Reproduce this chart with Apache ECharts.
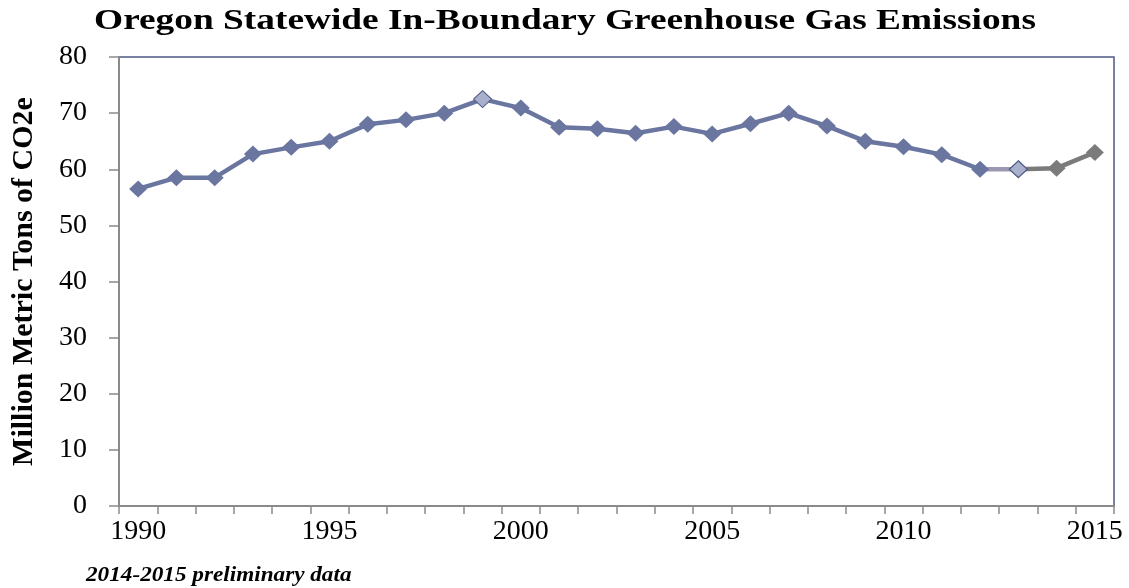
<!DOCTYPE html>
<html>
<head>
<meta charset="utf-8">
<script src="https://cdn.jsdelivr.net/npm/echarts@6/dist/echarts.min.js"></script>
<style>html,body{margin:0;padding:0;background:#fff;}#c{width:1129px;height:588px;}</style>
</head>
<body>
<div id="c"></div>
<script>
var years = ['1990','1991','1992','1993','1994','1995','1996','1997','1998','1999','2000','2001','2002','2003','2004','2005','2006','2007','2008','2009','2010','2011','2012','2013','2014','2015'];
var emissions = [56.5, 58.5, 58.5, 62.7, 63.9, 65.0, 68.0, 68.8, 70.0, 72.5, 70.9, 67.5, 67.2, 66.4, 67.6, 66.3, 68.1, 70.0, 67.7, 65.0, 64.0, 62.6, 60.0, 60.0, 60.2, 63.0];
var preliminaryYears = ['2014','2015'];
var highlightYears = ['1999','2013'];
var yTicks = [0, 10, 20, 30, 40, 50, 60, 70, 80];

var BLUE = '#6A76A0', LIGHT = '#A9B0CC', DARKEDGE = '#4E5A85', MID = '#9B99B2', GREY = '#7B7B7B';
var lastFinal = years.indexOf('2012');
var hlIdx = years.indexOf('2013');

function pick(from, to, styler) {
  return years.map(function (y, i) {
    if (i < from || i > to) return null;
    var item = { value: emissions[i] };
    var s = styler(y, i);
    if (s) Object.assign(item, s);
    return item;
  });
}

var s1 = pick(0, lastFinal, function (y) {
  if (highlightYears.indexOf(y) >= 0) return { itemStyle: { color: LIGHT, borderColor: DARKEDGE, borderWidth: 1 } };
  return null;
});
var s2 = pick(lastFinal, hlIdx, function (y, i) {
  if (i === hlIdx) return { itemStyle: { color: LIGHT, borderColor: DARKEDGE, borderWidth: 1.2 } };
  return { symbol: 'none' };
});
var s3 = pick(hlIdx, years.length - 1, function (y, i) {
  if (i === hlIdx) return { symbol: 'none' };
  return null;
});

var serif = 'Liberation Serif, Times New Roman, serif';
var chart = echarts.init(document.getElementById('c'), null, { renderer: 'canvas' });
chart.setOption({
  animation: false,
  backgroundColor: '#ffffff',
  graphic: [{
    type: 'text', x: 565, y: 21, scaleX: 1.245,
    style: { text: 'Oregon Statewide In-Boundary Greenhouse Gas Emissions', x: 0, y: 0, align: 'center', verticalAlign: 'middle',
      fontFamily: serif, fontWeight: 'bold', fontSize: 30, fill: '#000' }
  }, {
    type: 'text', x: 86, y: 576, scaleX: 1.16,
    style: { text: '2014-2015 preliminary data', x: 0, y: 0, align: 'left', verticalAlign: 'middle',
      fontFamily: serif, fontWeight: 'bold', fontStyle: 'italic', fontSize: 20, fill: '#000' }
  }],
  grid: { left: 119, right: 15, top: 57, bottom: 82, show: true, borderColor: '#4E5A85', borderWidth: 1.5, backgroundColor: 'transparent', containLabel: false, outerBoundsMode: 'none' },
  xAxis: {
    type: 'category', data: years, boundaryGap: true,
    axisLine: { show: true, lineStyle: { color: '#8A8A8A', width: 2 } },
    axisTick: { show: true, interval: 0, length: 8, lineStyle: { color: '#8A8A8A', width: 1.5 } },
    axisLabel: { interval: 4, margin: 12, fontFamily: serif, fontSize: 28, color: '#000' },
    splitLine: { show: false }
  },
  yAxis: {
    type: 'value', min: yTicks[0], max: yTicks[yTicks.length - 1], interval: 10,
    name: 'Million Metric Tons of CO2e', nameLocation: 'middle', nameGap: 80,
    nameTextStyle: { fontFamily: serif, fontWeight: 'bold', fontSize: 30, color: '#000' },
    axisLine: { show: true, lineStyle: { color: '#8A8A8A', width: 2 } },
    axisTick: { show: true, length: 10, lineStyle: { color: '#8A8A8A', width: 1.5 } },
    axisLabel: { margin: 32, fontFamily: serif, fontSize: 28, color: '#000' },
    splitLine: { show: false }
  },
  series: [
    { type: 'line', data: s2, z: 2, symbol: 'diamond', symbolSize: [18, 17], lineStyle: { color: MID, width: 4.5 }, itemStyle: { color: MID }, connectNulls: false },
    { type: 'line', data: s3, z: 2, symbol: 'diamond', symbolSize: [18, 17], lineStyle: { color: GREY, width: 4.5 }, itemStyle: { color: GREY }, connectNulls: false },
    { type: 'line', data: s1, z: 3, symbol: 'diamond', symbolSize: [18, 17], lineStyle: { color: BLUE, width: 4.5 }, itemStyle: { color: BLUE }, connectNulls: false }
  ]
});
</script>
</body>
</html>
